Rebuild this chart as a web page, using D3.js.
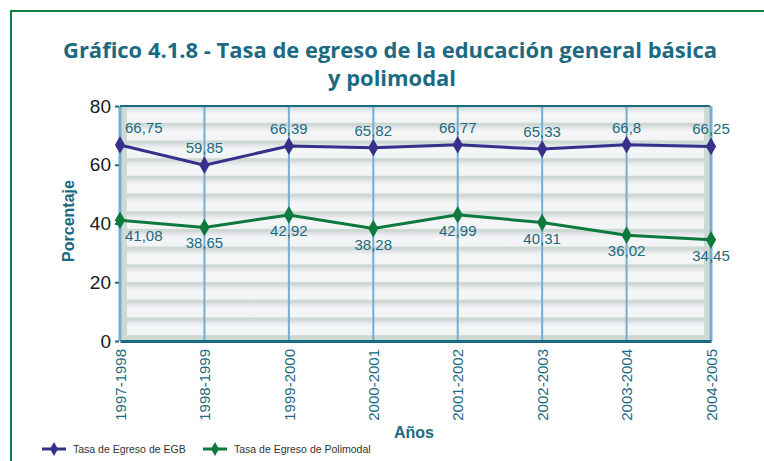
<!DOCTYPE html>
<html>
<head>
<meta charset="utf-8">
<script src="https://cdn.jsdelivr.net/npm/d3@7"></script>
<style>
  body { margin: 0; background: #fff; }
  svg { display: block; font-family: "Liberation Sans", Arial, sans-serif; }
</style>
</head>
<body>
<svg id="chart" width="764" height="461"></svg>
<script>
// chart data
var years = ["1997-1998", "1998-1999", "1999-2000", "2000-2001", "2001-2002", "2002-2003", "2003-2004", "2004-2005"];
var egb = [66.75, 59.85, 66.39, 65.82, 66.77, 65.33, 66.8, 66.25];
var polimodal = [41.08, 38.65, 42.92, 38.28, 42.99, 40.31, 36.02, 34.45];
var yTicks = [0, 20, 40, 60, 80];
var seriesNames = ["Tasa de Egreso de EGB", "Tasa de Egreso de Polimodal"];

var svg = d3.select("#chart");
var teal = "#1b6a82";
var colors = ["#35318b", "#0b7a3c"];

var pLeft = 120, pRight = 711, pTop = 106, pBottom = 341;

var x = d3.scalePoint().domain(years).range([pLeft, pRight]);
var y = d3.scaleLinear().domain([0, 80]).range([pBottom, pTop]);

// outer frame
svg.append("rect")
    .attr("x", 11).attr("y", 11)
    .attr("width", 800).attr("height", 500)
    .attr("fill", "none")
    .attr("stroke", "#0f7f45")
    .attr("stroke-width", 2);

// title
svg.append("text")
    .attr("x", 390).attr("y", 58)
    .attr("text-anchor", "middle")
    .attr("font-family", "Open Sans, sans-serif")
    .attr("font-weight", "bold")
    .attr("font-size", 22)
    .attr("fill", teal)
    .attr("textLength", 654)
    .attr("lengthAdjust", "spacingAndGlyphs")
    .text("Gráfico 4.1.8 - Tasa de egreso de la educación general básica");
svg.append("text")
    .attr("x", 392).attr("y", 86)
    .attr("text-anchor", "middle")
    .attr("font-family", "Open Sans, sans-serif")
    .attr("font-weight", "bold")
    .attr("font-size", 22)
    .attr("fill", teal)
    .attr("textLength", 128)
    .attr("lengthAdjust", "spacingAndGlyphs")
    .text("y polimodal");

// plot background with stripes
var defs = svg.append("defs");
var grad = defs.append("linearGradient")
    .attr("id", "stripe").attr("x1", 0).attr("y1", 0).attr("x2", 0).attr("y2", 1);
grad.append("stop").attr("offset", "0%").attr("stop-color", "#d9dddf");
grad.append("stop").attr("offset", "25%").attr("stop-color", "#eceef0");
grad.append("stop").attr("offset", "45%").attr("stop-color", "#f5f6f8");
grad.append("stop").attr("offset", "100%").attr("stop-color", "#f2f3f5");

svg.append("rect")
    .attr("x", pLeft).attr("y", pTop)
    .attr("width", pRight - pLeft).attr("height", pBottom - pTop)
    .attr("fill", "#cfd9d4");

var bandH = 17.7;
var bands = d3.range(pTop + 2, pBottom - 6, bandH);
svg.selectAll(".band")
    .data(bands)
    .enter().append("rect")
    .attr("class", "band")
    .attr("x", pLeft + 7)
    .attr("y", function (d) { return d; })
    .attr("width", pRight - pLeft - 14)
    .attr("height", function (d) { return Math.min(bandH - 3, pBottom - 4 - d); })
    .attr("fill", "url(#stripe)");

// vertical grid lines
svg.selectAll(".vgrid")
    .data(years)
    .enter().append("line")
    .attr("class", "vgrid")
    .attr("x1", function (d) { return x(d); })
    .attr("x2", function (d) { return x(d); })
    .attr("y1", pTop).attr("y2", pBottom)
    .attr("stroke", "#75aed0")
    .attr("stroke-width", function (d, i) { return (i === 0 || i === years.length - 1) ? 3 : 2; });

// top line
svg.append("line")
    .attr("x1", pLeft).attr("x2", pRight - 1)
    .attr("y1", pTop).attr("y2", pTop)
    .attr("stroke", teal).attr("stroke-width", 2);

// y axis
var yAxis = svg.append("g")
    .attr("transform", "translate(" + (pLeft - 1) + ",0)")
    .call(d3.axisLeft(y).tickValues(yTicks).tickSize(4).tickPadding(4));
yAxis.select(".domain").remove();
yAxis.selectAll(".tick line").attr("stroke", teal).attr("stroke-width", 2);
yAxis.selectAll(".tick text")
    .attr("font-size", 19)
    .attr("fill", "#1a1a1a")
    .attr("font-family", "Liberation Sans, Arial, sans-serif");

// x axis
var xAxis = svg.append("g")
    .attr("transform", "translate(0," + pBottom + ")")
    .call(d3.axisBottom(x).tickSize(0).tickPadding(0));
xAxis.select(".domain")
    .attr("stroke", teal).attr("stroke-width", 3);
xAxis.selectAll(".tick text")
    .attr("font-size", 15)
    .attr("fill", teal)
    .attr("font-family", "Liberation Sans, Arial, sans-serif")
    .attr("text-anchor", "end")
    .attr("dy", "0.35em")
    .attr("transform", "translate(0,8) rotate(-90)")
    .attr("x", 0).attr("y", 0);

// axis titles
svg.append("text")
    .attr("transform", "translate(74,221) rotate(-90)")
    .attr("text-anchor", "middle")
    .attr("font-weight", "bold")
    .attr("font-size", 16)
    .attr("fill", teal)
    .text("Porcentaje");
svg.append("text")
    .attr("x", 414).attr("y", 438)
    .attr("text-anchor", "middle")
    .attr("font-weight", "bold")
    .attr("font-size", 16)
    .attr("fill", teal)
    .text("Años");

// series
var series = [egb, polimodal];
var line = d3.line()
    .x(function (d, i) { return x(years[i]); })
    .y(function (d) { return y(d); });
var diamond = d3.symbol().type(d3.symbolDiamond).size(90);

function fmt(v) { return String(v).replace(".", ","); }

series.forEach(function (vals, s) {
    svg.append("path")
        .datum(vals)
        .attr("d", line)
        .attr("fill", "none")
        .attr("stroke", colors[s])
        .attr("stroke-width", 3);

    svg.selectAll(".pt" + s)
        .data(vals)
        .enter().append("path")
        .attr("class", "pt" + s)
        .attr("transform", function (d, i) { return "translate(" + x(years[i]) + "," + y(d) + ")"; })
        .attr("d", diamond)
        .attr("fill", colors[s]);

    svg.selectAll(".lbl" + s)
        .data(vals)
        .enter().append("text")
        .attr("class", "lbl" + s)
        .attr("x", function (d, i) { return x(years[i]) + (i === 0 ? 5 : 0); })
        .attr("y", function (d) { return y(d) + (s === 0 ? -12 : 21); })
        .attr("text-anchor", function (d, i) { return i === 0 ? "start" : "middle"; })
        .attr("font-size", 15)
        .attr("fill", teal)
        .text(fmt);
});

// legend
var legend = svg.selectAll(".legend")
    .data(seriesNames)
    .enter().append("g")
    .attr("class", "legend")
    .attr("transform", function (d, i) { return "translate(" + (42 + i * 161) + ",449)"; });
legend.append("line")
    .attr("x1", 0).attr("x2", 24)
    .attr("stroke", function (d, i) { return colors[i]; })
    .attr("stroke-width", 3);
legend.append("path")
    .attr("transform", "translate(12,0)")
    .attr("d", d3.symbol().type(d3.symbolDiamond).size(55))
    .attr("fill", function (d, i) { return colors[i]; });
legend.append("text")
    .attr("x", 31).attr("y", 4)
    .attr("font-size", 10.5)
    .attr("fill", "#333")
    .text(function (d) { return d; });
</script>
</body>
</html>
